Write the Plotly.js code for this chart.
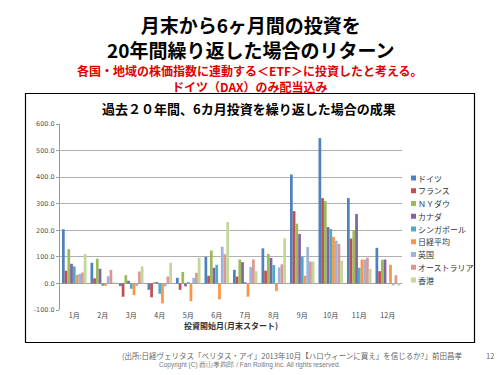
<!DOCTYPE html>
<html><head><meta charset="utf-8">
<script src="https://cdn.plot.ly/plotly-3.0.1.min.js"></script>
<style>html,body{margin:0;padding:0;background:#fff;}#c{width:500px;height:375px;}</style>
</head><body><div id="c"></div>
<script>
const months = ['1月','2月','3月','4月','5月','6月','7月','8月','9月','10月','11月','12月'];
const seriesNames = ['ドイツ','フランス','ＮＹダウ','カナダ','シンガポール','日経平均','英国','オーストラリア','香港'];
const germany   = [204, 78, -10, -24, 21, 100, 51, 132, 410, 547, 321, 134];
const france    = [48, 19, -50, -52, -24, 29, 26, 48, 272, 321, 169, 46];
const nydow     = [129, 93, 31, 5, 43, 124, 90, 111, 225, 310, 200, 89];
const canada    = [74, 55, 10, 5, -11, 59, 80, 96, 186, 212, 261, 90];
const singapore = [64, -9, -20, -39, 5, 70, 5, 69, 100, 205, 59, 0];
const nikkei    = [32, -9, -44, -75, -67, -60, -50, -29, 29, 175, 90, 70];
const uk        = [36, 27, -10, -11, 21, 138, 62, 60, 137, 161, 90, -7];
const australia = [41, 51, 45, 26, 40, 110, 90, 72, 82, 149, 97, 31];
const hongkong  = [111, 5, 64, 78, 97, 231, 46, 170, 82, 86, 55, -8];
const yTicks = [-100, 0, 100, 200, 300, 400, 500, 600];

const allValues = [germany, france, nydow, canada, singapore, nikkei, uk, australia, hongkong];
const colors = ['#4F81BD','#C0504D','#9BBB59','#8064A2','#4BACC6','#F79646','#9DB3DC','#D99795','#C4D79B'];

const traces = allValues.map((v, i) => ({
  type: 'bar', name: seriesNames[i], x: months, y: v,
  marker: {color: colors[i], line: {width: 0}}, showlegend: false
}));

// plot area pixel box
const L = 60, R = 402, T = 124, B = 310;
const px = x => (x - L) / (R - L);
const py = y => (B - y) / (B - T);
const JP = '"Noto Sans CJK JP", sans-serif';

const shapes = [
  {type: 'rect', xref: 'paper', yref: 'paper', x0: px(25.5), x1: px(474.5), y0: py(342.5), y1: py(93.5),
    line: {color: '#000', width: 1.2}, fillcolor: 'rgba(0,0,0,0)', layer: 'below'}
];
const annotations = [
  {xref: 'paper', yref: 'paper', x: px(250), y: py(37), text: '<b>月末から6ヶ月間の投資を<br>20年間繰り返した場合のリターン</b>', showarrow: false,
    font: {family: JP, size: 19, color: '#000'}, xanchor: 'center', yanchor: 'middle'},
  {xref: 'paper', yref: 'paper', x: px(250), y: py(78), text: '<b>各国・地域の株価指数に連動する＜ETF＞に投資したと考える。<br>ドイツ（DAX）のみ配当込み</b>', showarrow: false,
    font: {family: JP, size: 12, color: '#E00000'}, xanchor: 'center', yanchor: 'middle'},
  {xref: 'paper', yref: 'paper', x: px(249), y: py(108), text: '<b>過去２０年間、6カ月投資を繰り返した場合の成果</b>', showarrow: false,
    font: {family: JP, size: 13, color: '#000'}, xanchor: 'center', yanchor: 'middle'},
  {xref: 'paper', yref: 'paper', x: px(292), y: py(355), text: '(出所:日経ヴェリタス「ベリタス・アイ」2013年10月【ハロウィーンに買え」を信じるか?」前田昌孝', showarrow: false,
    font: {family: JP, size: 7.5, color: '#666'}, xanchor: 'center', yanchor: 'middle', borderpad: 0},
  {xref: 'paper', yref: 'paper', x: px(490), y: py(355), text: '12', showarrow: false,
    font: {family: JP, size: 7.5, color: '#666'}, xanchor: 'center', yanchor: 'middle'},
  {xref: 'paper', yref: 'paper', x: px(249), y: py(365), text: 'Copyright (C) 西山孝四郎 / Fan Rolling Inc. All rights reserved.', showarrow: false,
    font: {family: 'Liberation Sans, sans-serif', size: 6.5, color: '#777'}, xanchor: 'center', yanchor: 'middle', borderpad: 0}
];
// compact legend built from the series names and colours
seriesNames.forEach((name, i) => {
  const yc = 178 + i * 12.75;
  shapes.push({type: 'rect', xref: 'paper', yref: 'paper', x0: px(411), x1: px(416), y0: py(yc + 2.5), y1: py(yc - 2.5),
    line: {width: 0}, fillcolor: colors[i]});
  annotations.push({xref: 'paper', yref: 'paper', x: px(417), y: py(yc), text: name, showarrow: false,
    font: {family: JP, size: 8, color: '#333'}, xanchor: 'left', yanchor: 'middle', borderpad: 0});
});

const layout = {
  width: 500, height: 375,
  margin: {l: L, r: 500 - R, t: T, b: 375 - B, pad: 0},
  paper_bgcolor: '#fff', plot_bgcolor: '#fff',
  barmode: 'group', bargap: 0.14, bargroupgap: 0,
  showlegend: false,
  xaxis: {type: 'category', showgrid: false, showline: false, ticks: '', zeroline: false,
    tickfont: {family: JP, size: 7, color: '#444'}, ticklen: 0,
    title: {text: '<b>投資開始月(月末スタート)</b>', font: {family: JP, size: 8, color: '#333'}, standoff: 2}},
  yaxis: {range: [-100, 600], tickvals: yTicks, ticktext: yTicks.map(v => v.toFixed(1)),
    showgrid: true, gridcolor: '#B0B0B0', gridwidth: 1, zeroline: true, zerolinecolor: '#A0A0A0', zerolinewidth: 1,
    showline: true, linecolor: '#9A9A9A', linewidth: 1, ticks: 'outside', ticklen: 3, tickcolor: '#9A9A9A',
    tickfont: {family: 'DejaVu Sans, sans-serif', size: 6.5, color: '#555'}},
  shapes: shapes,
  annotations: annotations
};

Plotly.newPlot('c', traces, layout, {displayModeBar: false, staticPlot: true});
</script></body></html>
